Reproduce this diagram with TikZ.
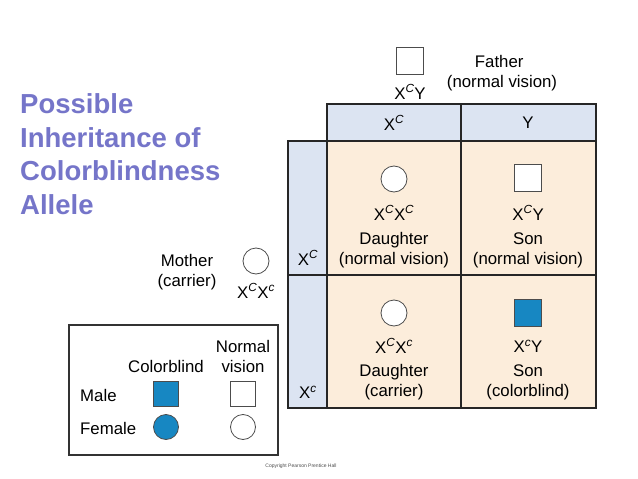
\documentclass[tikz,border=0pt]{standalone}
\usepackage{fontspec}
\setmainfont{Liberation Sans}
\definecolor{hdr}{HTML}{DCE4F2}
\definecolor{peach}{HTML}{FCEDDB}
\definecolor{cb}{HTML}{1787C2}
\definecolor{ttl}{HTML}{7575C9}
\begin{document}
\begin{tikzpicture}[x=1pt,y=-1pt,
  lbl/.style={inner sep=0pt,font=\fontsize{16.8}{20}\selectfont},
  sq/.style={draw=black!70,fill=white,minimum size=27pt,inner sep=0pt,line width=0.8pt},
  circ/.style={draw=black!70,fill=white,circle,minimum size=26pt,inner sep=0pt,line width=0.8pt},
  cbsq/.style={sq,fill=cb},cbcirc/.style={circ,fill=cb},
  grid/.style={draw=black!85,line width=1.6pt}]
\useasboundingbox (0,0) rectangle (638,479);
\newcommand{\XC}{X\textsuperscript{\itshape C}}
\newcommand{\Xc}{X\textsuperscript{\itshape c}}
% title
\node[anchor=west,align=left,text=ttl,font=\bfseries\fontsize{27.5}{33.5}\selectfont,inner sep=0pt] (title) at (20,154) {Possible\\Inheritance of\\Colorblindness\\Allele};
% grid
\fill[hdr] (327,104) rectangle (596,141);
\fill[hdr] (288,141) rectangle (327,408);
\fill[peach] (327,141) rectangle (596,408);
\draw[grid] (327,104) rectangle (596,408);
\draw[grid] (288,141) rectangle (327,408);
\draw[grid] (327,141) -- (596,141);
\draw[grid] (461,104) -- (461,408);
\draw[grid] (288,275) -- (596,275);
\node[lbl] (h1) at (394,123) {\XC};
\node[lbl] (h2) at (528,123) {Y};
\node[lbl] (v1) at (308,258) {\XC};
\node[lbl] (v2) at (308,392) {\Xc};
% father
\node[sq] (father) at (410,61) {};
\node[lbl] (fg) at (410,92) {\XC Y};
\node[lbl,align=right] (ft) at (502,73) {Father\hspace*{2em}\\(normal vision)};
% mother
\node[circ] (mother) at (256,261) {};
\node[lbl] (mg) at (256,291) {\XC\Xc};
\node[lbl,align=center] (mt) at (187,272) {Mother\\(carrier)};
% cells
\node[circ] (c1) at (394,179) {};
\node[lbl] (g1) at (394,213) {\XC\XC};
\node[lbl,align=center] (t1) at (394,250) {Daughter\\(normal vision)};
\node[sq] (c2) at (528,178) {};
\node[lbl] (g2) at (528,213) {\XC Y};
\node[lbl,align=center] (t2) at (528,250) {Son\\(normal vision)};
\node[circ] (c3) at (394,313) {};
\node[lbl] (g3) at (394,346) {\XC\Xc};
\node[lbl,align=center] (t3) at (394,382) {Daughter\\(carrier)};
\node[cbsq] (c4) at (528,313) {};
\node[lbl] (g4) at (528,346) {\Xc Y};
\node[lbl,align=center] (t4) at (528,382) {Son\\(colorblind)};
% legend
\draw[black!80,line width=1.2pt,fill=white] (69,325) rectangle (278,455);
\node[lbl,align=center] (nv) at (243,356) {Normal\\vision};
\node[lbl] (cbl) at (166,366) {Colorblind};
\node[lbl,anchor=west] (male) at (80,395) {Male};
\node[lbl,anchor=west] (female) at (80,428) {Female};
\node[cbsq,minimum size=25pt] (ls1) at (166,394) {};
\node[sq,minimum size=25pt] (ls2) at (243,394) {};
\node[cbcirc,minimum size=25pt] (lc1) at (166,427) {};
\node[circ,minimum size=25pt] (lc2) at (243,427) {};
\node[inner sep=0pt,font=\fontsize{5}{6}\selectfont,text=black!70] (copy) at (301,466) {Copyright Pearson Prentice Hall};
\end{tikzpicture}
\end{document}
